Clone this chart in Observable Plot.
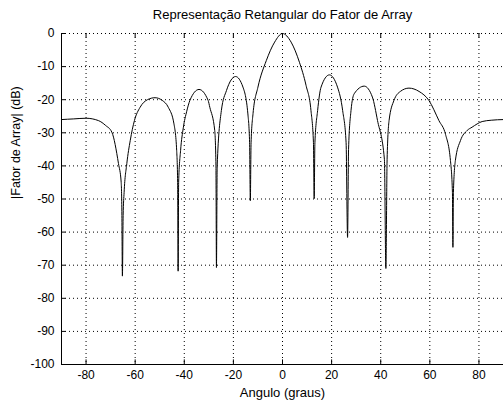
<!DOCTYPE html>
<html><head><meta charset="utf-8">
<script src="https://cdn.jsdelivr.net/npm/d3@7"></script>
<script src="https://cdn.jsdelivr.net/npm/@observablehq/plot@0.6"></script>
<style>
html,body{margin:0;padding:0;background:#fff;}
svg{font-family:"Liberation Sans",Arial,sans-serif;}
</style></head>
<body><div id="chart"></div>
<script>
const titleText = "Representação Retangular do Fator de Array";
const xLabel = "Angulo (graus)";
const yLabel = "|Fator de Array| (dB)";
const xTicks = [-80,-60,-40,-20,0,20,40,60,80];
const yTicks = [0,-10,-20,-30,-40,-50,-60,-70,-80,-90,-100];

const angles = [-90,-85,-80,-75,-72,-69.5,-66.8,-65.7,-65.4,-65.2,-64.9,-64.5,-63.4,-62,-60.3,-58,-55,-51.9,-49,-46.5,-44.2,-43.1,-42.7,-42.5,-42.3,-41.5,-40.4,-39,-37.7,-34,-30.3,-29.6,-27.6,-27.1,-26.9,-26.6,-24.9,-22.8,-19.1,-16.1,-14.1,-13.4,-13.1,-12.8,-12,-10,-6.6,-3.2,0,3.5,6.9,9.6,11.6,12.6,12.9,13.2,14.3,15.7,19.1,22.4,24.5,25.9,26.5,26.9,27.9,29.2,33.3,36.6,38.7,41.5,42.1,42.6,43.4,45.4,48,51.5,55.6,59.6,63.7,66.4,68.4,69.2,69.4,69.6,70.4,72.5,75.2,77.2,81.3,85,90];
const dB = [-26,-25.8,-25.6,-26.3,-27.8,-29.8,-39.3,-44.9,-55,-73.3,-55,-48,-39.3,-32.3,-26.3,-22.3,-20,-19.4,-20.2,-22.3,-27.3,-35.3,-45,-71.8,-45,-35.3,-28.5,-23.5,-20.2,-16.9,-20.2,-22.3,-29.3,-40,-70.7,-40,-23.3,-17.2,-13,-16.2,-24.3,-33,-50.5,-33,-24.2,-16.2,-8.2,-2.6,0,-2.6,-8.7,-15.7,-23.3,-33,-49.9,-33,-23.3,-16.2,-12.5,-16.2,-23.3,-33,-61.6,-35,-23.3,-18.2,-15.9,-19.2,-26.3,-38,-71,-38,-26.3,-20.2,-17.5,-16.5,-17.5,-20.2,-26.3,-30.5,-38.4,-48,-64.6,-48,-38.4,-32.3,-29.3,-28.3,-26.6,-26.2,-26];

const data = angles.map((a,i)=>({a, v: dB[i]}));

const chart = Plot.plot({
  width: 503, height: 401,
  marginLeft: 61, marginRight: 0, marginTop: 33, marginBottom: 37,
  style: {fontSize: "12px", fontFamily: "'Liberation Sans', Arial, sans-serif", color: "#000", background: "#fff"},
  x: {domain: [-90, 90], ticks: xTicks, tickFormat: d => String(d), tickSize: 0, tickPadding: 6},
  y: {domain: [-100, 0], ticks: yTicks, tickFormat: d => String(d), tickSize: 0, tickPadding: 7},
  marks: [
    Plot.gridX(xTicks, {stroke: "#000", strokeOpacity: 1, strokeDasharray: "1,3", strokeWidth: 1}),
    Plot.gridY(yTicks, {stroke: "#000", strokeOpacity: 1, strokeDasharray: "1,3", strokeWidth: 1}),
    Plot.axisX(xTicks, {tickFormat: d => String(d), tickSize: 0, tickPadding: 6, fontSize: 12, label: null}),
    Plot.axisY(yTicks, {tickFormat: d => String(d), tickSize: 0, tickPadding: 7, fontSize: 12, label: null}),
    Plot.ruleX(xTicks, {y1: -100, y2: -98.6, stroke: "#000"}),
    Plot.ruleX(xTicks, {y1: 0, y2: -1.4, stroke: "#000"}),
    Plot.ruleY(yTicks, {x1: -90, x2: -88.2, stroke: "#000"}),
    Plot.ruleX([-90], {stroke: "#000"}),
    Plot.ruleY([-100], {stroke: "#000"}),
    Plot.line(data, {x: "a", y: "v", stroke: "#000", strokeWidth: 1, curve: "monotone-x"}),
    Plot.text([titleText], {frameAnchor: "top", dy: -19, lineAnchor: "middle", fontSize: 13, fill: "#000"}),
    Plot.text([xLabel], {frameAnchor: "bottom", dy: 28, lineAnchor: "middle", fontSize: 13, fill: "#000"}),
    Plot.text([yLabel], {frameAnchor: "left", dx: -46, rotate: -90, lineAnchor: "middle", fontSize: 12.5, fill: "#000"})
  ]
});
document.getElementById("chart").appendChild(chart);
</script></body></html>
